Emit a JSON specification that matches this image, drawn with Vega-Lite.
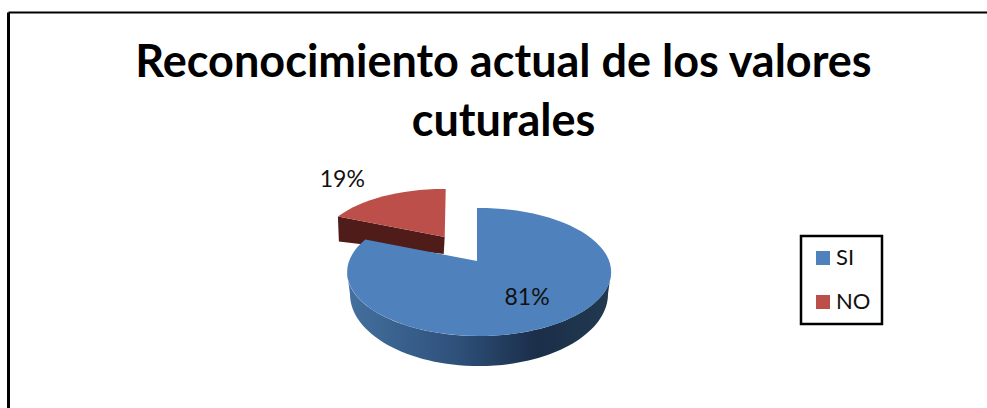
{
  "$schema": "https://vega.github.io/schema/vega-lite/v6.json",
  "width": 979,
  "height": 396,
  "padding": {"left": 8, "top": 12, "right": 0, "bottom": 0},
  "autosize": {"type": "none"},
  "background": "white",
  "config": {"view": {"stroke": null}, "font": "Lato", "legend": {"strokeWidth": 2.5}},
  "title": {
    "text": ["Reconocimiento actual de los valores", "cuturales"],
    "anchor": "middle",
    "frame": "group",
    "orient": "top",
    "baseline": "top",
    "offset": -133,
    "dx": 6,
    "font": "Lato",
    "fontWeight": "bold",
    "fontSize": 45,
    "lineHeight": 59,
    "color": "#000000"
  },
  "data": {
    "values": [
      {"categoria": "SI", "valor": 81},
      {"categoria": "NO", "valor": 19}
    ]
  },
  "transform": [
    {"calculate": "datum.categoria === 'SI' ? 2 * PI * datum.valor / 100 : 2 * PI * (1 - datum.valor / 100)", "as": "corte"},
    {"calculate": "datum.categoria === 'SI' ? 0.91 : 0.87", "as": "alcance"},
    {"calculate": "round(sin(datum.corte) * 132 * datum.alcance * 10) / 10", "as": "ex"},
    {"calculate": "round(-cos(datum.corte) * 64 * datum.alcance * 10) / 10", "as": "ey"},
    {"calculate": "datum.categoria === 'SI' ? 477 : 444.7", "as": "ax"},
    {"calculate": "datum.categoria === 'SI' ? 261 : 237", "as": "ay"},
    {"calculate": "datum.categoria === 'SI' ? 'M0,0 L0,-53 A132,64 0 1 1 ' + datum.ex + ',' + datum.ey + ' Z' : 'M0,0 L' + datum.ex + ',' + datum.ey + ' A125,60 0 0 1 1,-48 Z'", "as": "cara"},
    {"calculate": "'M' + datum.ex + ',' + datum.ey + ' L0,0 L-1,17 L' + (datum.ex + 1) + ',' + (datum.ey + 25) + ' Z'", "as": "corteLateral"},
    {"calculate": "datum.categoria === 'SI' ? PI * datum.valor / 100 : 2 * PI * (1 - datum.valor / 200)", "as": "medio"},
    {"calculate": "datum.ax + sin(datum.medio) * 132 * (datum.categoria === 'SI' ? 0.675 : 1.38)", "as": "lx"},
    {"calculate": "datum.ay - cos(datum.medio) * 64 * (datum.categoria === 'SI' ? 0.7 : 1.07)", "as": "ly"},
    {"calculate": "datum.valor + '%'", "as": "etiqueta"}
  ],
  "encoding": {
    "x": {
      "field": "ax",
      "type": "quantitative",
      "scale": {"domain": [8, 987], "zero": false, "nice": false},
      "axis": {"orient": "top", "title": null, "labels": false, "ticks": false, "grid": false, "domain": true, "domainColor": "#000000", "domainWidth": 2}
    },
    "y": {
      "field": "ay",
      "type": "quantitative",
      "scale": {"domain": [12, 408], "reverse": true, "zero": false, "nice": false},
      "axis": {"orient": "left", "title": null, "labels": false, "ticks": false, "grid": false, "domain": true, "domainColor": "#000000", "domainWidth": 3}
    }
  },
  "layer": [
    {
      "description": "Cut face of the pulled-out NO slice",
      "transform": [{"filter": "datum.categoria === 'NO'"}],
      "mark": {"type": "point", "filled": true, "size": 4, "opacity": 1, "fill": "#4f1c1a", "strokeWidth": 0},
      "encoding": {"shape": {"field": "corteLateral", "type": "nominal", "scale": null, "legend": null}}
    },
    {
      "description": "Top face of the NO slice",
      "transform": [{"filter": "datum.categoria === 'NO'"}],
      "mark": {"type": "point", "filled": true, "size": 4, "opacity": 1, "strokeWidth": 0},
      "encoding": {
        "shape": {"field": "cara", "type": "nominal", "scale": null, "legend": null},
        "fill": {
          "field": "categoria",
          "type": "nominal",
          "scale": {"domain": ["SI", "NO"], "range": ["#4f81bd", "#bd4f4b"]},
          "legend": {
            "title": null,
            "orient": "none",
            "legendX": 793,
            "legendY": 224,
            "direction": "vertical",
            "strokeColor": "#000000",
            "fillColor": "white",
            "cornerRadius": 0,
            "padding": 11,
            "symbolType": "square",
            "symbolSize": 196,
            "symbolStrokeWidth": 0,
            "labelFont": "Lato",
            "labelFontSize": 22,
            "labelColor": "#111111",
            "labelOffset": 2,
            "rowPadding": 22
          }
        }
      }
    },
    {
      "description": "Curved outer wall of the SI slice, shaded from left to right",
      "transform": [{"filter": "datum.categoria === 'SI'"}],
      "mark": {
        "type": "point",
        "filled": true,
        "size": 4,
        "opacity": 1,
        "strokeWidth": 0,
        "shape": "M134,11 A132,64 0 0 1 -130,11 L-127,33 A129,72 0 0 0 131,33 Z",
        "fill": {
          "gradient": "linear",
          "x1": 0, "y1": 0, "x2": 1, "y2": 0,
          "stops": [
            {"offset": 0, "color": "#44709f"},
            {"offset": 0.4, "color": "#2f527c"},
            {"offset": 0.72, "color": "#1b2e4a"},
            {"offset": 1, "color": "#22394f"}
          ]
        }
      }
    },
    {
      "description": "Top face of the SI slice",
      "transform": [{"filter": "datum.categoria === 'SI'"}],
      "mark": {"type": "point", "filled": true, "size": 4, "opacity": 1, "strokeWidth": 0},
      "encoding": {
        "shape": {"field": "cara", "type": "nominal", "scale": null, "legend": null},
        "fill": {"field": "categoria", "type": "nominal"}
      }
    },
    {
      "description": "Percentage labels",
      "mark": {"type": "text", "font": "Lato", "fontSize": 23, "color": "#111111", "align": "center", "baseline": "middle"},
      "encoding": {
        "x": {"field": "lx", "type": "quantitative"},
        "y": {"field": "ly", "type": "quantitative"},
        "text": {"field": "etiqueta", "type": "nominal"}
      }
    }
  ]
}
